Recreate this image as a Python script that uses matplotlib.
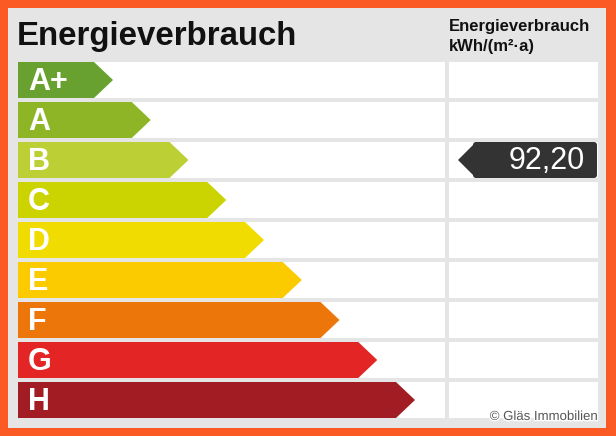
import matplotlib
matplotlib.use("Agg")
import matplotlib.pyplot as plt
from matplotlib.patches import Polygon, Rectangle, FancyBboxPatch
import matplotlib.patheffects as pe

plt.rcParams['font.family'] = ['Liberation Sans', 'DejaVu Sans']

# data
classes = ['A+', 'A', 'B', 'C', 'D', 'E', 'F', 'G', 'H']
colors = ['#68a12f', '#8db526', '#bcd036', '#cbd300', '#f0dc00',
          '#fbcb00', '#ec7609', '#e32625', '#a21c23']
value = 92.20
value_label = '92,20'
value_class = 'B'
title = 'Energieverbrauch'
unit_lines = ['Energieverbrauch', 'kWh/(m²·a)']
credit = '© Gläs Immobilien'

W, H = 616, 436
fig = plt.figure(figsize=(W / 100, H / 100), dpi=100)
ax = fig.add_axes([0, 0, 1, 1])
ax.set_xlim(0, W)
ax.set_ylim(H, 0)
ax.axis('off')

# frame
fig.patch.set_facecolor('#fb5a25')
ax.add_patch(Rectangle((8, 8), 598, 420, color='#e5e5e5', lw=0))

ax.text(17, 36, title, fontsize=23.8, fontweight='bold', va='center', color='#111111')
ax.text(449, 26, unit_lines[0], fontsize=12, fontweight='bold', va='center', color='#111111')
ax.text(449, 46, unit_lines[1], fontsize=12, fontweight='bold', va='center', color='#111111')

top, pitch, rh = 62, 40, 36
left, mid_end, right_start, right_end = 18, 445, 449, 598
tip0, step, tipdepth = 113, 37.75, 19

for i, (cls, col) in enumerate(zip(classes, colors)):
    y0 = top + i * pitch
    y1 = y0 + rh
    ax.add_patch(Rectangle((left, y0), mid_end - left, rh, color='white', lw=0))
    ax.add_patch(Rectangle((right_start, y0), right_end - right_start, rh, color='white', lw=0))
    tip = tip0 + step * i
    ax.add_patch(Polygon([(left, y0), (tip - tipdepth, y0), (tip, (y0 + y1) / 2),
                          (tip - tipdepth, y1), (left, y1)], closed=True, color=col, lw=0))
    ax.text(28, (y0 + y1) / 2 + 1.5, cls, fontsize=22, fontweight='bold', color='white',
            va='center', ha='left')

# indicator
k = classes.index(value_class)
y0 = top + k * pitch
y1 = y0 + rh
ax.add_patch(FancyBboxPatch((473, y0), right_end - 473 - 1, rh,
                            boxstyle='round,pad=0,rounding_size=3', color='#333333', lw=0))
ax.add_patch(Polygon([(458, (y0 + y1) / 2), (476, y0), (476, y1)], closed=True,
                     color='#333333', lw=0))
ax.text(585, (y0 + y1) / 2 + 1, value_label, fontsize=22, color='white',
        ha='right', va='center')

ax.text(598, 417, credit, fontsize=9.5, color='#555555', ha='right', va='center',
        path_effects=[pe.withStroke(linewidth=2, foreground='white')])

fig.savefig('out.png', dpi=100, facecolor=fig.get_facecolor())
